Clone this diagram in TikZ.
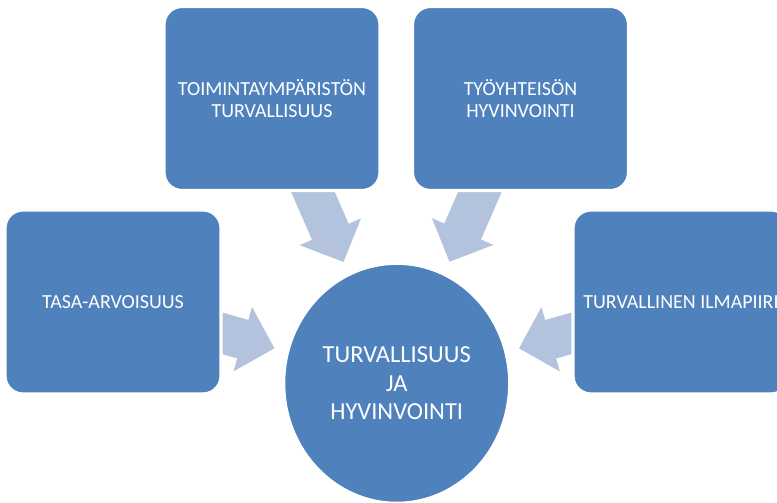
\documentclass[tikz,border=0pt]{standalone}
\usepackage{fontspec}
\setmainfont{Carlito}
\usetikzlibrary{shapes.geometric,arrows.meta,backgrounds}
\definecolor{tileblue}{HTML}{4F81BD}
\definecolor{arrowblue}{HTML}{B3C3DE}
\tikzset{
  tile/.style={rectangle, rounded corners=0.45cm, fill=tileblue, draw=white, line width=0.08cm,
    minimum width=5.4cm, minimum height=4.6cm, text=white, align=center,
    font=\fontsize{14.2}{15.8}\selectfont},
  hub/.style={ellipse, fill=tileblue, draw=white, line width=0.08cm,
    minimum width=5.65cm, minimum height=6cm, text=white, align=center,
    font=\fontsize{17.4}{20.3}\selectfont},
  fatarrow/.style={arrowblue, line width=1cm, -{Triangle[width=1.625cm,length=0.825cm]}, shorten >=0.3cm}
}
\begin{document}
\begin{tikzpicture}[x=0.025cm,y=0.025cm]
  \useasboundingbox (0,0) rectangle (777,503);
  \clip (0,0) rectangle (777,503);

  % The hub
  \node[hub] (ring) at (396.7,119.7) {TURVALLISUUS\\JA\\HYVINVOINTI};

  % The boxes
  \node[tile] (toim) at (272,404.5) {TOIMINTAYMPÄRISTÖN\\TURVALLISUUS};
  \node[tile] (tyo) at (520.5,404.5) {TYÖYHTEISÖN\\HYVINVOINTI};
  \node[tile] (tasa) at (113,201) {TASA-ARVOISUUS};
  \node[tile] (ilma) at (681,201) {TURVALLINEN ILMAPIIRI};

  % The arrows
  \begin{scope}[on background layer]
    \draw[fatarrow] (toim.center) -- (ring);
    \draw[fatarrow] (tyo.center) -- (ring);
    \draw[fatarrow] (tasa.center) -- (ring);
    \draw[fatarrow] (ilma.center) -- (ring);
  \end{scope}
\end{tikzpicture}
\end{document}
